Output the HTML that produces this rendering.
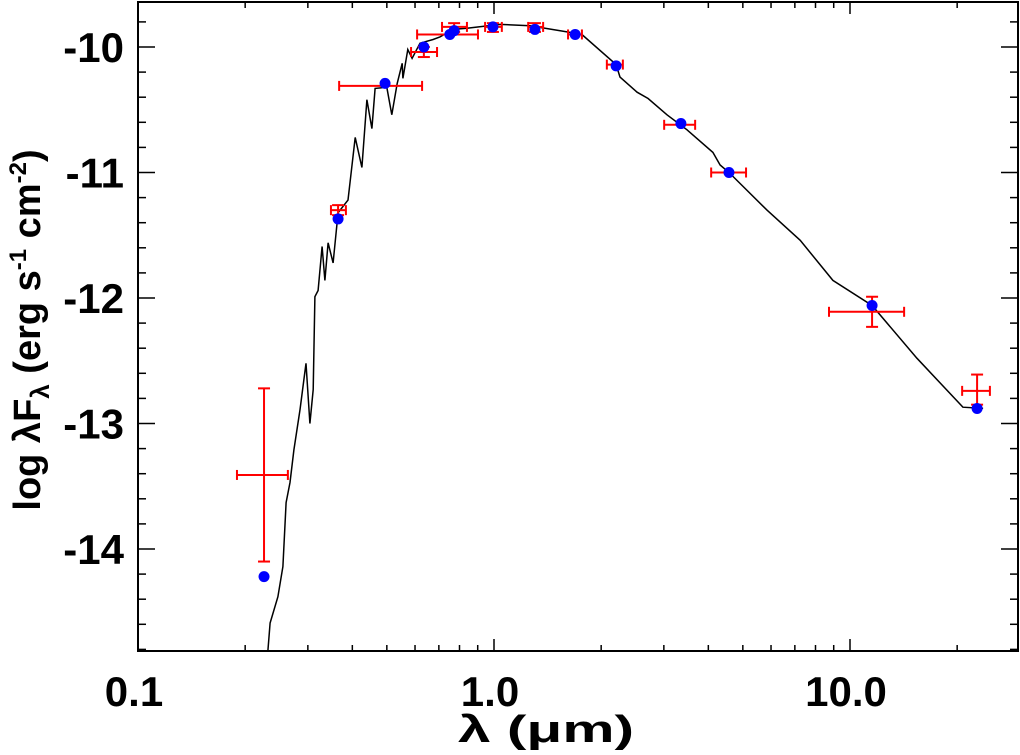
<!DOCTYPE html>
<html><head><meta charset="utf-8"><style>
html,body{margin:0;padding:0;background:#fff;}
svg{display:block;font-family:"Liberation Sans",sans-serif;font-weight:bold;}
</style></head><body>
<svg id="chart" width="1020" height="755" viewBox="0 0 1020 755" xmlns="http://www.w3.org/2000/svg">
<g id="model"></g>
<g id="errs"></g>
<g id="pts"></g>
<g id="axes"></g>
<text x="458" y="742" font-size="38" textLength="176" lengthAdjust="spacingAndGlyphs">λ (μm)</text>
<text transform="translate(40,330) rotate(-90)" font-size="38" text-anchor="middle">log λF<tspan font-size="26" dy="9">λ</tspan><tspan dy="-9"> (erg s</tspan><tspan font-size="24" dy="-14">-1</tspan><tspan dy="14"> cm</tspan><tspan font-size="24" dy="-14">-2</tspan><tspan dy="14">)</tspan></text>
</svg>
<script>
// model spectrum (log10 wavelength in um, log flux)
const modelLogLam = [-0.635,-0.629,-0.607,-0.593,-0.584,-0.573,-0.562,-0.545,-0.528,-0.517,-0.508,-0.503,-0.494,-0.483,-0.475,-0.466,-0.452,-0.438,-0.410,-0.390,-0.371,-0.357,-0.343,-0.334,-0.301,-0.287,-0.272,-0.258,-0.256,-0.242,-0.230,-0.208,-0.171,-0.152,-0.115,-0.076,0.017,0.101,0.205,0.247,0.343,0.354,0.402,0.433,0.486,0.542,0.615,0.635,0.660,0.767,0.860,0.952,1.062,1.188,1.317,1.374];
const modelLogF = [-14.81,-14.59,-14.38,-14.14,-13.63,-13.47,-13.21,-12.89,-12.52,-13.00,-12.73,-11.99,-11.94,-11.59,-11.86,-11.56,-11.72,-11.32,-11.22,-10.72,-10.96,-10.42,-10.65,-10.33,-10.32,-10.54,-10.29,-10.13,-10.25,-10.02,-10.09,-9.97,-9.94,-9.92,-9.86,-9.85,-9.82,-9.83,-9.88,-9.90,-10.14,-10.24,-10.36,-10.41,-10.54,-10.66,-10.84,-10.94,-11.00,-11.30,-11.54,-11.86,-12.06,-12.48,-12.87,-12.88];
// model photometry (blue)
const ptLogLam = [-0.646,-0.438,-0.306,-0.197,-0.124,-0.112,-0.003,0.115,0.228,0.343,0.525,0.660,1.062,1.357];
const ptLogF = [-14.22,-11.37,-10.29,-10.00,-9.90,-9.87,-9.84,-9.86,-9.90,-10.15,-10.61,-11.00,-12.06,-12.88];
// observed fluxes with errors (red)
const obsLogLam = [-0.646,-0.438,-0.306,-0.197,-0.124,-0.112,-0.003,0.115,0.228,0.343,0.525,0.660,1.062,1.357];
const obsLamLo  = [-0.722,-0.458,-0.435,-0.233,-0.216,-0.146,-0.025,0.096,0.208,0.317,0.478,0.610,0.941,1.315];
const obsLamHi  = [-0.579,-0.416,-0.202,-0.160,-0.045,-0.076,0.022,0.138,0.247,0.362,0.565,0.708,1.152,1.393];
const obsLogF = [-13.41,-11.30,-10.31,-10.04,-9.90,-9.84,-9.84,-9.84,-9.90,-10.14,-10.62,-11.00,-12.11,-12.74];
const obsFLo  = [-14.10,-11.34,-10.31,-10.08,-9.90,-9.88,-9.88,-9.88,-9.90,-10.14,-10.62,-11.00,-12.23,-12.85];
const obsFHi  = [-12.72,-11.26,-10.31,-10.00,-9.90,-9.81,-9.81,-9.81,-9.90,-10.14,-10.62,-11.00,-11.99,-12.61];
const xTickVals = [0.1,1,10];
const xTickLabels = ["0.1","1.0","10.0"];
const yTickVals = [-10,-11,-12,-13,-14];
const yTickLabels = ["-10","-11","-12","-13","-14"];

const L=138,R=1018,T=2,B=651;
const X0=-1, XPD=356; // px per decade
const Y0=-10, YPU=125.5, YREF=47;
function sx(ll){return L+(ll-X0)*XPD;}
function sy(v){return YREF-(v-Y0)*YPU;}
const NS='http://www.w3.org/2000/svg';
function mk(tag,attrs,parent){const e=document.createElementNS(NS,tag);for(const k in attrs)e.setAttribute(k,attrs[k]);parent.appendChild(e);return e;}

const model=document.getElementById('model');
let d='';
modelLogLam.forEach((v,i)=>{d+=(i?'L':'M')+sx(v).toFixed(1)+','+sy(modelLogF[i]).toFixed(1);});
const mp=mk('path',{d:d,fill:'none',stroke:'#000','stroke-width':1.5},model);



const errs=document.getElementById('errs');
obsLogLam.forEach((v,i)=>{
  const g=mk('g',{stroke:'#f00','stroke-width':2},errs);
  
  
  const cx=sx(v),cy=sy(obsLogF[i]),x1=sx(obsLamLo[i]),x2=sx(obsLamHi[i]);
  mk('line',{x1:x1,y1:cy,x2:x2,y2:cy},g);
  mk('line',{x1:x1,y1:cy-5,x2:x1,y2:cy+5},g);
  mk('line',{x1:x2,y1:cy-5,x2:x2,y2:cy+5},g);
  const y1=sy(obsFHi[i]),y2=sy(obsFLo[i]);
  if(Math.abs(y2-y1)>1){
    mk('line',{x1:cx,y1:y1,x2:cx,y2:y2},g);
    mk('line',{x1:cx-6,y1:y1,x2:cx+6,y2:y1},g);
    mk('line',{x1:cx-6,y1:y2,x2:cx+6,y2:y2},g);
  }
});

const pts=document.getElementById('pts');
ptLogLam.forEach((v,i)=>{
  const c=mk('circle',{cx:sx(v),cy:sy(ptLogF[i]),r:5.5,fill:'#0000ff'},pts);
  
  
});

const ax=document.getElementById('axes');
const fr=mk('rect',{x:L,y:T,width:R-L,height:B-T,fill:'none',stroke:'#000','stroke-width':2},ax);


// x ticks
for(let dec=-1;dec<=1;dec++){
  for(let m=1;m<=9;m++){
    const ll=dec+Math.log10(m);
    const x=sx(ll); if(x>R)continue;
    const len=m===1?12:6;
    mk('line',{x1:x,y1:B,x2:x,y2:B-len,stroke:'#000','stroke-width':1.5},ax);
    mk('line',{x1:x,y1:T,x2:x,y2:T+len,stroke:'#000','stroke-width':1.5},ax);
  }
}
xTickVals.forEach((v,i)=>{
  const t=mk('text',{x:sx(Math.log10(v))-4,y:706,'font-size':42,'text-anchor':'middle'},ax);
  t.textContent=xTickLabels[i];
  
  
});
// y ticks
for(let k=0;k<=26;k++){
  const v=-9.6-k*0.2; const y=sy(v);
  if(y<T||y>B)continue;
  const major=Math.abs(v-Math.round(v))<1e-6;
  const len=major?17:8;
  mk('line',{x1:L,y1:y,x2:L+len,y2:y,stroke:'#000','stroke-width':1.5},ax);
  mk('line',{x1:R,y1:y,x2:R-len,y2:y,stroke:'#000','stroke-width':1.5},ax);
}
yTickVals.forEach((v,i)=>{
  const t=mk('text',{x:124,y:sy(v)+15,'font-size':42,'text-anchor':'end'},ax);
  t.textContent=yTickLabels[i];
  
  
});
</script>
</body></html>
